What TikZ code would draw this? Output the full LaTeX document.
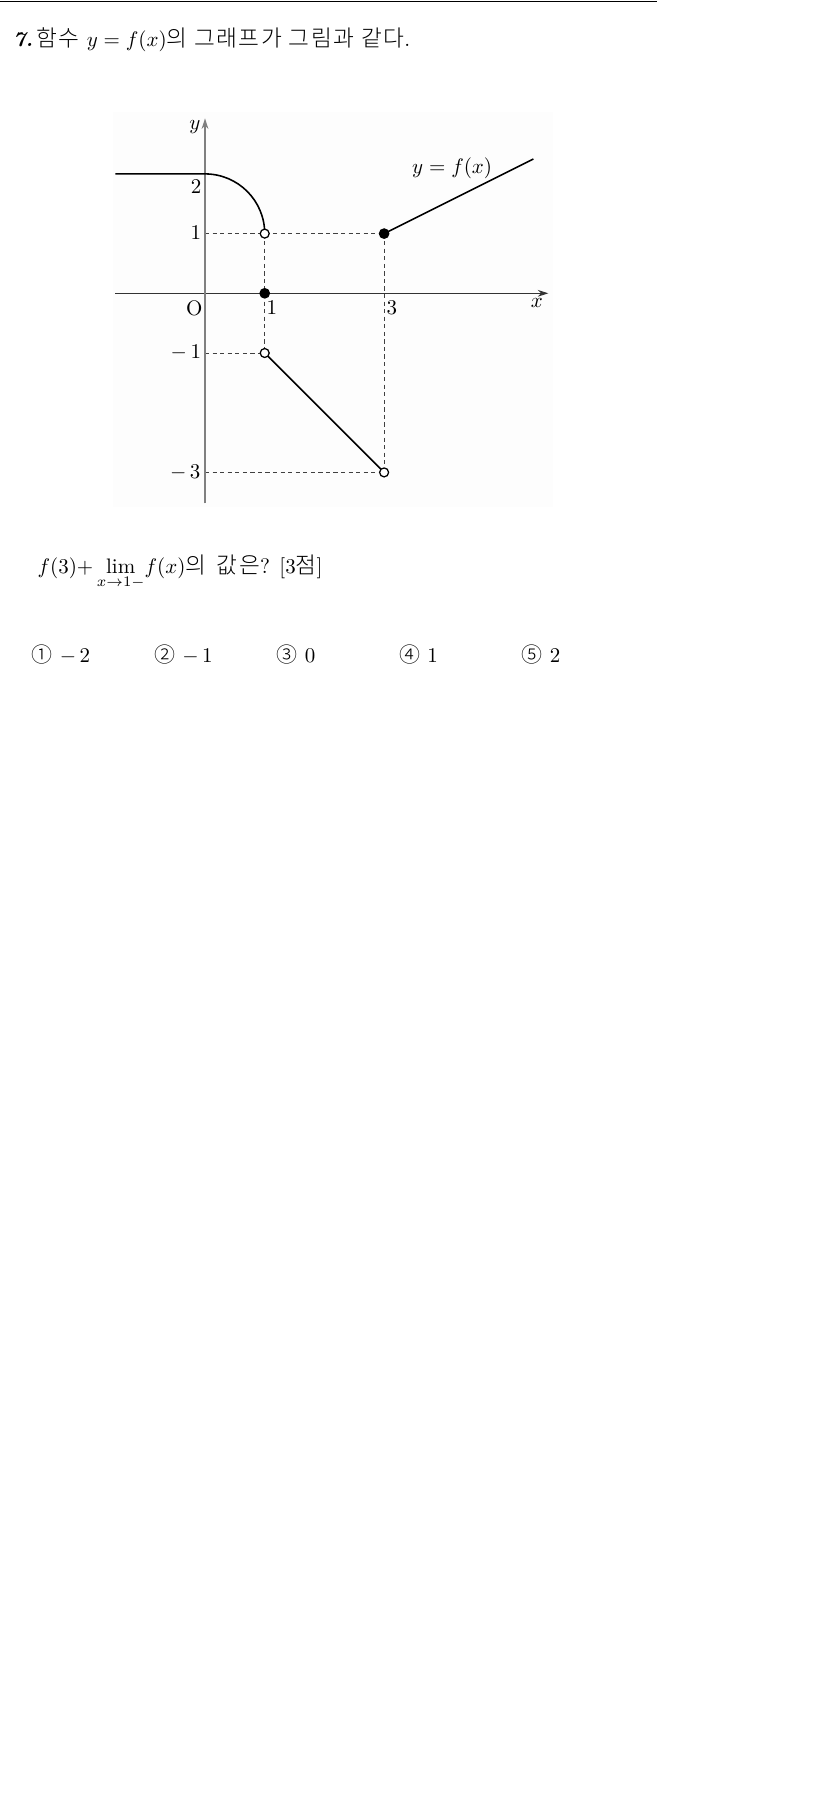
\documentclass[tikz,border=0pt]{standalone}
\usepackage{fontspec}
\newfontfamily\kr{Noto Sans CJK KR}[UprightFont={* Light}, Scale=1.08, LetterSpace=7]
\newfontfamily\krc{Noto Sans CJK KR}[UprightFont={* Light}]
\usetikzlibrary{arrows.meta}
\tikzset{
  curve/.style={line width=0.75pt, black},
  guide/.style={dash pattern=on 2pt off 1.6pt, line width=0.4pt, black!75},
  xaxis/.style={line width=0.45pt, black!80, -{Stealth[length=5pt,width=3.2pt]}},
  yaxis/.style={line width=0.8pt, black!50, -{Stealth[length=5pt,width=3.2pt]}},
  opendot/.style={circle, draw=black, fill=white, inner sep=0pt, minimum size=0.15cm, line width=0.6pt},
  fulldot/.style={circle, fill=black, inner sep=0pt, minimum size=0.18cm},
  lbl/.style={inner sep=0pt},
  txt/.style={inner sep=0pt, anchor=base west},
}
\begin{document}
\begin{tikzpicture}
\useasboundingbox (-3.434,-25.204) rectangle (10.335,4.913);
% top rule
\coordinate (ruleL) at (-3.434,4.895);
\coordinate (ruleR) at (7.57,4.895);
\draw[line width=0.5pt] (ruleL) -- (ruleR);
% title
\node[txt] (title) at (-3.22,4.126) {{\bfseries\itshape 7.}\,{\kr 함수} $y=f(x)${\kr 의 그래프가 그림과 같다}.};
% faint panel
\fill[black!0.8] (-1.54,-3.58) rectangle (5.83,3.04);
% key points
\coordinate (O) at (0,0);
\coordinate (y1) at (0,1);
\coordinate (y2) at (0,2);
\coordinate (ym1) at (0,-1);
\coordinate (ym3) at (0,-3);
\coordinate (A) at (1,1);
\coordinate (B) at (1,0);
\coordinate (C) at (1,-1);
\coordinate (D) at (3,-3);
\coordinate (E) at (3,1);
\coordinate (F) at (5.5,2.25);
\coordinate (G) at (-1.5,2);
\coordinate (xs) at (-1.5,0);
\coordinate (xe) at (5.75,0);
\coordinate (ys) at (0,-3.52);
\coordinate (ye) at (0,2.93);
% guides
\draw[guide] (y1) -- (E);
\draw[guide] (A) -- (C);
\draw[guide] (E) -- (D);
\draw[guide] (ym1) -- (C);
\draw[guide] (ym3) -- (D);
% axes
\draw[xaxis] (xs) -- (xe);
\draw[yaxis] (ys) -- (ye);
% graph
\draw[curve] (G) -- (y2) arc[start angle=90, end angle=0, radius=1];
\draw[curve] (C) -- (D);
\draw[curve] (E) -- (F);
% dots
\node[opendot] (dA) at (A) {};
\node[opendot] (dC) at (C) {};
\node[opendot] (dD) at (D) {};
\node[fulldot] (dB) at (B) {};
\node[fulldot] (dE) at (E) {};
% labels
\node[lbl] (ly) at (-0.17,2.79) {$y$};
\node[lbl] (lx) at (5.56,-0.16) {$x$};
\node[lbl] (lO) at (-0.18,-0.25) {O};
\node[lbl] (l2) at (-0.15,1.78) {$2$};
\node[lbl, anchor=east] (l1) at (-0.06,1.01) {$1$};
\node[lbl, anchor=east] (lm1) at (-0.06,-0.99) {$-\,1$};
\node[lbl, anchor=east] (lm3) at (-0.07,-3.0) {$-\,3$};
\node[lbl] (lx1) at (1.12,-0.25) {$1$};
\node[lbl] (lx3) at (3.13,-0.25) {$3$};
\node[lbl] (lf) at (4.14,2.10) {$y=f(x)$};
% question
\node[txt] (q) at (-2.81,-4.70) {$f(3){+}\;\,\lim\limits_{\makebox[0pt]{$\scriptstyle x\to1-$}}\;f(x)${\kr 의}\hspace{0.5em}{\kr 값은}?\hspace{0.45em}[3{\kr 점}]};
% choices
\node[txt] (c1) at (-2.906,-6.19) {{\krc ①} $-\,2$};
\node[txt] (c2) at (-0.854,-6.19) {{\krc ②} $-\,1$};
\node[txt] (c3) at (1.198,-6.19) {{\krc ③} $0$};
\node[txt] (c4) at (3.250,-6.19) {{\krc ④} $1$};
\node[txt] (c5) at (5.302,-6.19) {{\krc ⑤} $2$};
\end{tikzpicture}
\end{document}
